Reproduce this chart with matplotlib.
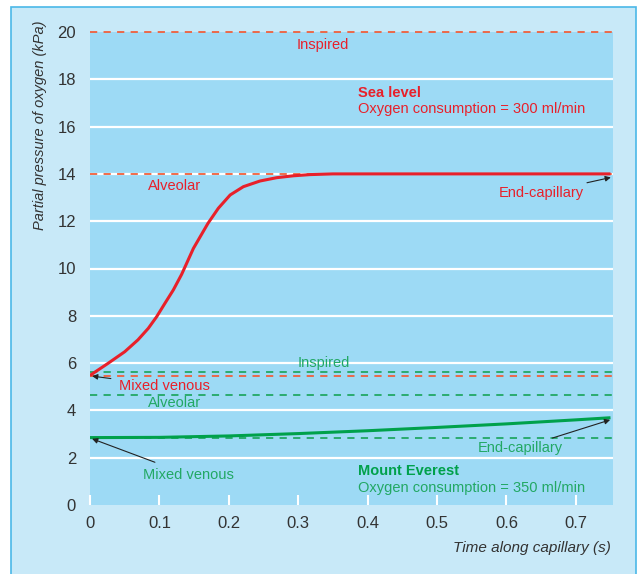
import matplotlib.pyplot as plt
from matplotlib.patches import Rectangle

# ------------------------------------------------------------
# Data
# ------------------------------------------------------------
sea_t = [0.0, 0.026, 0.050, 0.069, 0.084, 0.096, 0.108, 0.120, 0.132,
         0.149, 0.170, 0.185, 0.202, 0.221, 0.245, 0.269, 0.293, 0.317,
         0.35, 0.45, 0.55, 0.65, 0.75]
sea_p = [5.48, 5.99, 6.48, 6.98, 7.47, 7.96, 8.53, 9.09, 9.75,
         10.85, 11.91, 12.55, 13.11, 13.46, 13.70, 13.84, 13.92, 13.97,
         14.0, 14.0, 14.0, 14.0, 14.0]

ev_t = [0.0, 0.1, 0.2, 0.3, 0.4, 0.5, 0.6, 0.7, 0.75]
ev_p = [2.85, 2.86, 2.92, 3.02, 3.14, 3.28, 3.43, 3.60, 3.69]

sea_inspired = 20.0
sea_alveolar = 14.0
sea_venous = 5.45
ev_inspired = 5.64
ev_alveolar = 4.64
ev_venous = 2.85

yticks = [0, 2, 4, 6, 8, 10, 12, 14, 16, 18, 20]
xticks = [0, 0.1, 0.2, 0.3, 0.4, 0.5, 0.6, 0.7]
xticklabels = ["0", "0.1", "0.2", "0.3", "0.4", "0.5", "0.6", "0.7"]

# ------------------------------------------------------------
# Style
# ------------------------------------------------------------
plt.rcParams["font.family"] = ["Liberation Sans Narrow", "Liberation Sans", "DejaVu Sans"]

RED = "#E8202A"
RED_D = "#F0603C"
GREEN = "#00A14B"
GREEN_D = "#22A864"
PLOT_BG = "#9DDAF5"
OUTER_BG = "#C8E9F8"
TXT = "#333333"

fig = plt.figure(figsize=(6.37, 5.74), dpi=100)
fig.patch.set_facecolor("white")
fig.patches.append(Rectangle((11 / 637, -0.01), 625 / 637, 1 - 7 / 574 + 0.01,
                             transform=fig.transFigure, facecolor=OUTER_BG,
                             edgecolor="#4BB8E8", lw=1.2, zorder=-5))

ax = fig.add_axes([90 / 637, 1 - 505 / 574, 523 / 637, 473 / 574])
ax.set_zorder(2)
ax.set_facecolor(PLOT_BG)
for s in ax.spines.values():
    s.set_visible(False)

ax.set_xlim(0, 0.7536)
ax.set_ylim(0, 20)

for y in yticks[1:-1]:
    ax.axhline(y, color="white", lw=1.6, zorder=1)

ax.set_yticks(yticks)
ax.set_xticks(xticks)
ax.set_xticklabels(xticklabels)
ax.tick_params(axis="y", length=0, pad=10, labelsize=12, labelcolor=TXT)
ax.tick_params(axis="x", direction="in", length=7, width=1.5, color="white",
               pad=8, labelsize=12, labelcolor=TXT)

# reference levels (dashed)
dash = (0, (4, 3.5))
ax.axhline(sea_inspired, color=RED_D, lw=1.3, ls=dash, zorder=2, clip_on=False)
ax.axhline(sea_alveolar, color=RED_D, lw=1.3, ls=dash, zorder=2)
ax.axhline(sea_venous, color=RED_D, lw=1.3, ls=dash, zorder=2)
ax.axhline(ev_inspired, color=GREEN_D, lw=1.3, ls=dash, zorder=2)
ax.axhline(ev_alveolar, color=GREEN_D, lw=1.3, ls=dash, zorder=2)
ax.axhline(ev_venous, color=GREEN_D, lw=1.3, ls=dash, zorder=2)

# capillary curves
ax.plot(sea_t, sea_p, color=RED, lw=2.2, zorder=3, solid_capstyle="butt",
        solid_joinstyle="round")
ax.plot(ev_t, ev_p, color=GREEN, lw=2.2, zorder=3, solid_capstyle="butt",
        solid_joinstyle="round")

# labels
fs = 10.5
arrow = dict(arrowstyle="-|>", color="#222222", lw=0.8, mutation_scale=8, shrinkB=0)

ax.text(0.335, 19.45, "Inspired", color=RED, fontsize=fs, ha="center", va="center")
ax.text(0.386, 17.4, "Sea level", color=RED, fontsize=fs, fontweight="bold",
        ha="left", va="center")
ax.text(0.386, 16.75, "Oxygen consumption = 300 ml/min", color=RED, fontsize=fs,
        ha="left", va="center")
ax.text(0.084, 13.5, "Alveolar", color=RED, fontsize=fs, ha="left", va="center")
ax.annotate("End-capillary", xy=(0.7505, 13.85), xytext=(0.712, 13.2),
            color=RED, fontsize=fs, ha="right", va="center",
            arrowprops=dict(arrow, shrinkA=1))
ax.annotate("Mixed venous", xy=(0.003, 5.45), xytext=(0.042, 5.05),
            color=RED, fontsize=fs, ha="left", va="center",
            arrowprops=dict(arrow, shrinkA=4))

ax.text(0.337, 6.0, "Inspired", color=GREEN_D, fontsize=fs, ha="center", va="center")
ax.text(0.084, 4.3, "Alveolar", color=GREEN_D, fontsize=fs, ha="left", va="center")
ax.annotate("Mixed venous", xy=(0.003, 2.8), xytext=(0.077, 1.27),
            color=GREEN_D, fontsize=fs, ha="left", va="center",
            arrowprops=dict(arrow, shrinkA=6))
ax.annotate("End-capillary", xy=(0.7495, 3.6), xytext=(0.681, 2.4),
            color=GREEN_D, fontsize=fs, ha="right", va="center",
            arrowprops=dict(arrow, shrinkA=1))
ax.text(0.386, 1.45, "Mount Everest", color=GREEN, fontsize=fs, fontweight="bold",
        ha="left", va="center")
ax.text(0.386, 0.7, "Oxygen consumption = 350 ml/min", color=GREEN_D, fontsize=fs,
        ha="left", va="center")

fig.text(40 / 637, 1 - 20 / 574, "Partial pressure of oxygen (kPa)", rotation=90,
         fontsize=10.5, style="italic", color=TXT, ha="center", va="top")
fig.text(611 / 637, 1 - 548 / 574, "Time along capillary (s)", fontsize=11,
         style="italic", color=TXT, ha="right", va="center")

fig.savefig("out.png", dpi=100, facecolor=fig.get_facecolor())
